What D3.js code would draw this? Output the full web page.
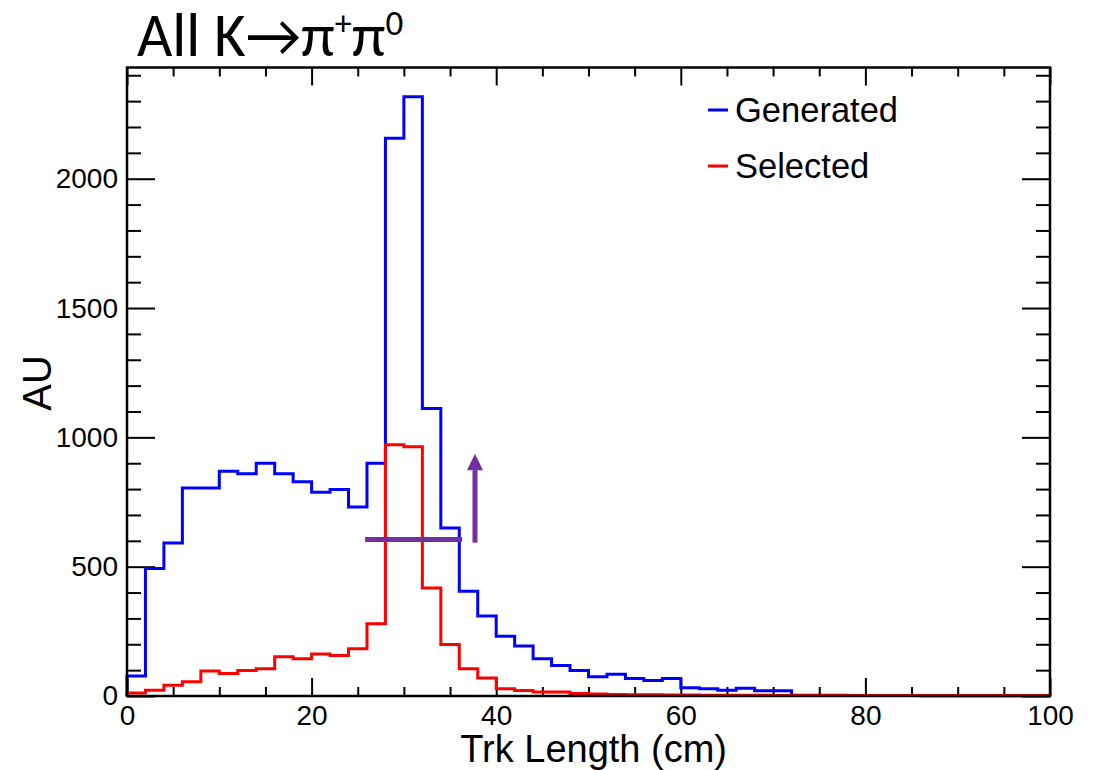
<!DOCTYPE html>
<html>
<head>
<meta charset="utf-8">
<script src="https://cdn.jsdelivr.net/npm/d3@7"></script>
<style>
  body { margin: 0; background: #fff; }
  text { font-family: "Liberation Sans", Arial, sans-serif; fill: #000; }
  .axis path { display: none; }
  .axis line { stroke: #000; stroke-width: 2; }
  .axis text { font-size: 28px; font-family: "Liberation Sans", Arial, sans-serif; }
</style>
</head>
<body>
<script>
// histogram bins: 2 cm wide, 0..100
var binLow = d3.range(0, 100, 2);
var binWidth = 2;

// Generated (blue)
var generated = [77, 493, 592, 804, 804, 869, 859, 900, 859, 828,
                 788, 798, 731, 900, 2156, 2317, 1112, 650, 405, 309,
                 231, 193, 144, 118, 99, 74, 84, 68, 60, 68,
                 32, 28, 22, 30, 20, 20, 3, 3, 3, 2,
                 2, 2, 2, 1, 1, 1, 1, 1, 1, 1];

// Selected (red)
var selected = [12, 22, 42, 55, 97, 87, 99, 105, 152, 144,
                162, 157, 183, 279, 971, 964, 418, 199, 105, 70,
                28, 21, 15, 15, 10, 8, 6, 5, 5, 4,
                4, 3, 3, 3, 3, 2, 2, 2, 2, 2,
                2, 2, 2, 2, 2, 2, 2, 2, 2, 2];

var xMajor = [0, 20, 40, 60, 80, 100];
var yMajor = [0, 500, 1000, 1500, 2000];

// cut annotation (data coords)
var cutLine = [[25.8, 605], [36.3, 605]];
var cutArrow = [[37.7, 593], [37.7, 873]];
var cutArrowTip = 937;

var W = 1099, H = 770;
var margin = {left: 127, right: 1050, top: 67.5, bottom: 696};

var svg = d3.select("body").append("svg")
    .attr("width", W)
    .attr("height", H);

var x = d3.scaleLinear().domain([0, 100]).range([margin.left, margin.right]);
var y = d3.scaleLinear().domain([0, 2430]).range([margin.bottom, margin.top]);

// minor ticks
var xMinor = d3.range(0, 101, 5).filter(function(d) { return d % 20 !== 0; });
var yMinor = d3.range(0, 2431, 100).filter(function(d) { return d % 500 !== 0; });

// bottom axis
svg.append("g").attr("class", "axis")
    .attr("transform", "translate(0," + margin.bottom + ")")
    .call(d3.axisBottom(x).tickValues(xMajor).tickSize(-18).tickPadding(9).tickFormat(d3.format("d")));
svg.append("g").attr("class", "axis")
    .attr("transform", "translate(0," + margin.bottom + ")")
    .call(d3.axisBottom(x).tickValues(xMinor).tickSize(-9).tickFormat(""));
// top axis
svg.append("g").attr("class", "axis")
    .attr("transform", "translate(0," + margin.top + ")")
    .call(d3.axisTop(x).tickValues(xMajor).tickSize(-18).tickFormat(""));
svg.append("g").attr("class", "axis")
    .attr("transform", "translate(0," + margin.top + ")")
    .call(d3.axisTop(x).tickValues(xMinor).tickSize(-9).tickFormat(""));
// left axis
svg.append("g").attr("class", "axis")
    .attr("transform", "translate(" + margin.left + ",0)")
    .call(d3.axisLeft(y).tickValues(yMajor).tickSize(-28).tickPadding(9).tickFormat(d3.format("d")));
svg.append("g").attr("class", "axis")
    .attr("transform", "translate(" + margin.left + ",0)")
    .call(d3.axisLeft(y).tickValues(yMinor).tickSize(-14).tickFormat(""));
// right axis
svg.append("g").attr("class", "axis")
    .attr("transform", "translate(" + margin.right + ",0)")
    .call(d3.axisRight(y).tickValues(yMajor).tickSize(-28).tickFormat(""));
svg.append("g").attr("class", "axis")
    .attr("transform", "translate(" + margin.right + ",0)")
    .call(d3.axisRight(y).tickValues(yMinor).tickSize(-14).tickFormat(""));

// step outline of a histogram
function stepPoints(vals) {
  var pts = [[0, 0]];
  vals.forEach(function(v, i) {
    pts.push([binLow[i], v]);
    pts.push([binLow[i] + binWidth, v]);
  });
  return pts;
}
var line = d3.line()
    .x(function(d) { return x(d[0]); })
    .y(function(d) { return y(d[1]); });

svg.append("path")
    .attr("d", line(stepPoints(generated)))
    .attr("fill", "none")
    .attr("stroke", "#0000ff")
    .attr("stroke-width", 3);

svg.append("path")
    .attr("d", line(stepPoints(selected)))
    .attr("fill", "none")
    .attr("stroke", "#ff0000")
    .attr("stroke-width", 3);

// frame
svg.append("rect")
    .attr("x", margin.left).attr("y", margin.top)
    .attr("width", margin.right - margin.left).attr("height", margin.bottom - margin.top)
    .attr("fill", "none").attr("stroke", "#000").attr("stroke-width", 2.5);

// cut annotation
svg.append("path")
    .attr("d", line(cutLine))
    .attr("stroke", "#7030a0").attr("stroke-width", 5).attr("fill", "none");
svg.append("path")
    .attr("d", line(cutArrow))
    .attr("stroke", "#7030a0").attr("stroke-width", 5).attr("fill", "none");
var ax = x(cutArrow[1][0]), ab = y(cutArrow[1][1]), at = y(cutArrowTip);
svg.append("path")
    .attr("d", "M" + (ax - 8) + "," + ab + "L" + ax + "," + at + "L" + (ax + 8) + "," + ab + "Z")
    .attr("fill", "#7030a0");

// legend
var legend = [["Generated", "#0000ff"], ["Selected", "#ff0000"]];
legend.forEach(function(d, i) {
  var ly = 110 + i * 56;
  svg.append("line")
      .attr("x1", 708).attr("x2", 728)
      .attr("y1", ly).attr("y2", ly)
      .attr("stroke", d[1]).attr("stroke-width", 3);
  svg.append("text")
      .attr("x", 735).attr("y", ly + 11.5)
      .style("font-size", "34.5px")
      .text(d[0]);
});

// axis titles
svg.append("text")
    .attr("x", 727).attr("y", 762)
    .attr("text-anchor", "end")
    .style("font-size", "38px")
    .text("Trk Length (cm)");

svg.append("text")
    .attr("transform", "translate(51,383) rotate(-90)")
    .attr("text-anchor", "middle")
    .style("font-size", "40px")
    .text("AU");

// title
var title = svg.append("text")
    .attr("x", 137).attr("y", 56)
    .style("font-family", "Carlito, 'Open Sans', sans-serif")
    .style("font-size", "61px");
title.append("tspan").text("All K\u2192\u03c0");
title.append("tspan").attr("dy", -21).style("font-size", "34px").text("+");
title.append("tspan").attr("dy", 21).text("\u03c0");
title.append("tspan").attr("dy", -21).style("font-size", "35px").text("0");
</script>
</body>
</html>
